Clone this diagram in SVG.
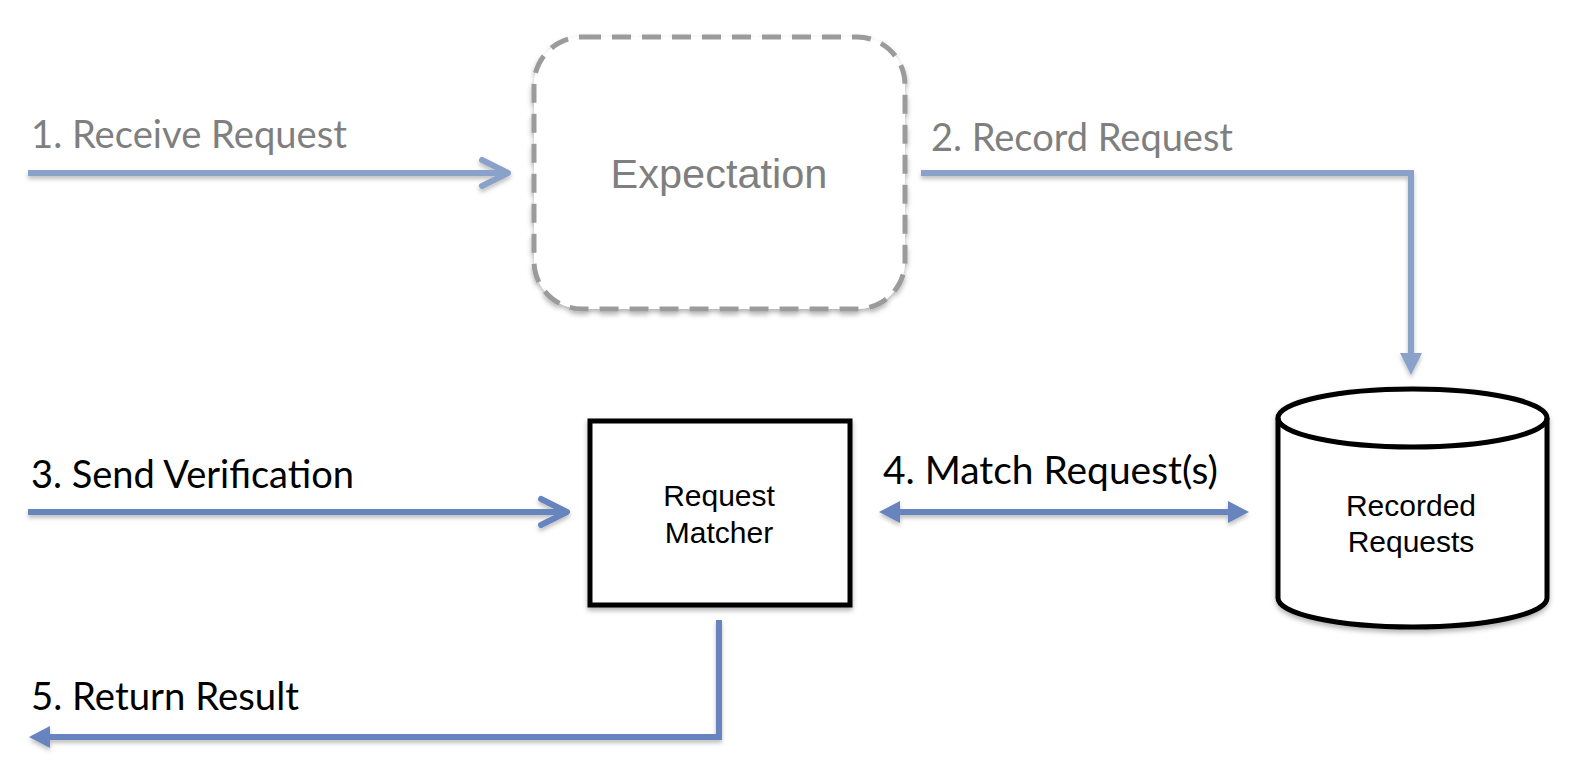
<svg xmlns="http://www.w3.org/2000/svg" width="1578" height="781" viewBox="0 0 1578 781">
  <style>
    .lbl { font-family: Lato, "Open Sans", "Liberation Sans", sans-serif; font-size: 38px; }
    .muted { fill: #7f7f7f; }
    .dark { fill: #000000; }
    .node-text { font-family: "Liberation Sans", Arial, sans-serif; font-size: 30px; fill: #000000; text-anchor: middle; }
    .wire { fill: none; stroke-width: 6; stroke-linecap: butt; stroke-linejoin: miter; }
    .light { stroke: #8aa1ca; }
    .strong { stroke: #6784be; }
    .chev { fill: none; stroke-width: 6; stroke-linecap: round; stroke-linejoin: round; }
  </style>
  <defs>
    <filter id="shadow" x="-10%" y="-10%" width="120%" height="130%">
      <feDropShadow dx="0" dy="3" stdDeviation="2.5" flood-color="#000000" flood-opacity="0.3"/>
    </filter>
    <filter id="lineShadow" x="-5%" y="-50%" width="110%" height="300%">
      <feDropShadow dx="0" dy="3" stdDeviation="2" flood-color="#000000" flood-opacity="0.25"/>
    </filter>
  </defs>

  <rect width="1578" height="781" fill="#ffffff"/>

  <!-- Nodes -->
  <g id="expectation">
    <rect x="534" y="37" width="371" height="272" rx="48" ry="48" fill="#ffffff" stroke="#9b9b9b" stroke-width="5" stroke-dasharray="19 11" filter="url(#shadow)"/>
    <text x="719" y="188" font-family="'Liberation Sans', Arial, sans-serif" font-size="41.5" fill="#7f7f7f" text-anchor="middle">Expectation</text>
  </g>

  <g id="request-matcher">
    <rect x="590" y="421" width="260" height="184" fill="#ffffff" stroke="#000000" stroke-width="5" filter="url(#shadow)"/>
    <text class="node-text" x="719" y="506">Request</text>
    <text class="node-text" x="719" y="543">Matcher</text>
  </g>

  <g id="recorded-requests">
    <path d="M1278,418 L1278,598 A134.5,29 0 0 0 1547,598 L1547,418 A134.5,29 0 0 0 1278,418 Z" fill="#ffffff" stroke="#000000" stroke-width="5" filter="url(#shadow)"/>
    <path d="M1278,418 A134.5,29 0 0 0 1547,418" fill="none" stroke="#000000" stroke-width="5"/>
    <text class="node-text" x="1411" y="516">Recorded</text>
    <text class="node-text" x="1411" y="552">Requests</text>
  </g>

  <!-- Connectors -->
  <g id="connectors">
    <!-- 1. receive request -->
    <g filter="url(#lineShadow)">
      <path class="wire light" d="M28,173 L506,173"/>
      <path class="chev light" d="M482,160 L508,173 L482,186"/>
    </g>
    <!-- 2. record request -->
    <g filter="url(#lineShadow)">
      <path class="wire light" d="M921,173 L1411,173 L1411,356"/>
      <path d="M1400,353 L1422,353 L1411,375 Z" fill="#8aa1ca"/>
    </g>
    <!-- 3. send verification -->
    <g filter="url(#lineShadow)">
      <path class="wire strong" d="M28,512 L566,512"/>
      <path class="chev strong" d="M541,499 L567,512 L541,525"/>
    </g>
    <!-- 4. match request(s) -->
    <g filter="url(#lineShadow)">
      <path class="wire strong" d="M896,512 L1232,512"/>
      <path d="M879,512 L900,501 L900,523 Z" fill="#6784be"/>
      <path d="M1249,512 L1228,501 L1228,523 Z" fill="#6784be"/>
    </g>
    <!-- 5. return result -->
    <g filter="url(#lineShadow)">
      <path class="wire strong" d="M719,620 L719,737 L46,737"/>
      <path d="M29,737 L50,726 L50,748 Z" fill="#6784be"/>
    </g>
  </g>

  <!-- Connector labels -->
  <g id="labels">
    <text class="lbl muted" x="31" y="148" textLength="316" lengthAdjust="spacingAndGlyphs">1. Receive Request</text>
    <text class="lbl muted" x="931" y="151" textLength="302" lengthAdjust="spacingAndGlyphs">2. Record Request</text>
    <text class="lbl dark" x="31" y="488" textLength="323" lengthAdjust="spacingAndGlyphs">3. Send Verification</text>
    <text class="lbl dark" x="883" y="484" textLength="335" lengthAdjust="spacingAndGlyphs">4. Match Request(s)</text>
    <text class="lbl dark" x="31" y="710" textLength="268" lengthAdjust="spacingAndGlyphs">5. Return Result</text>
  </g>
</svg>
